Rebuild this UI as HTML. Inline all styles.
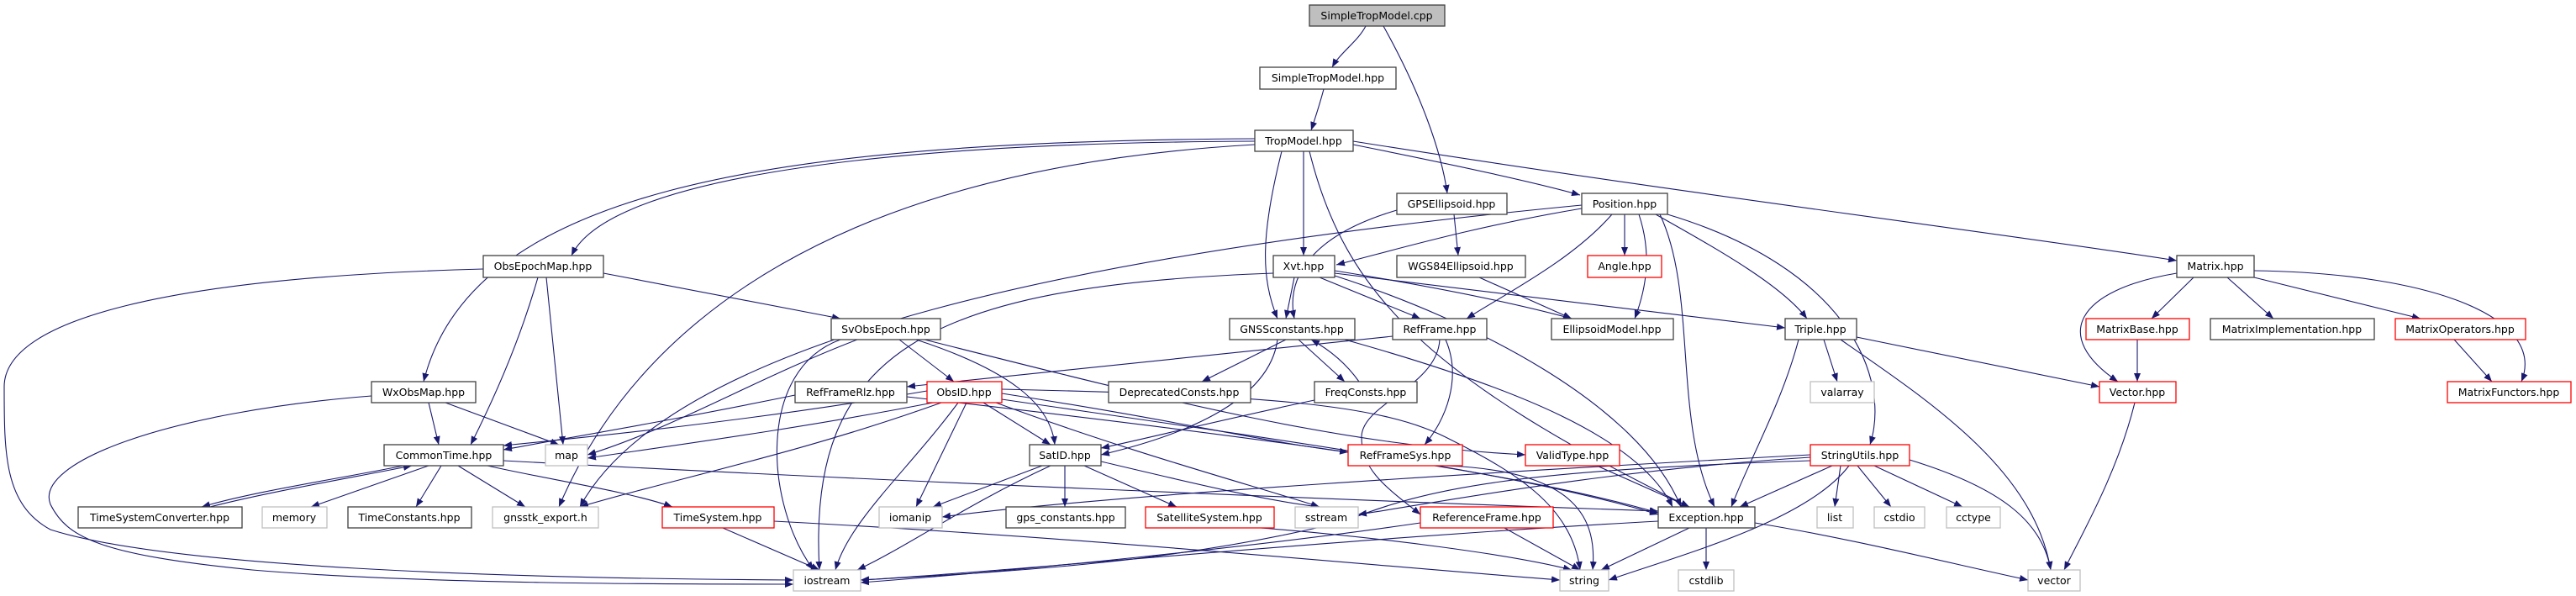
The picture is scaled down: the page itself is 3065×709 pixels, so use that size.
<!DOCTYPE html>
<html><head><meta charset="utf-8">
<style>
html,body{margin:0;padding:0;background:#fff;}
svg{display:block;}
text{font-family:"DejaVu Sans","Liberation Sans",sans-serif;font-size:12.5px;fill:#000;text-anchor:middle;}
.e{fill:none;stroke:#191970;stroke-width:1.1;marker-end:url(#a);}
.n{fill:#fff;stroke:#404040;stroke-width:1.3;}
.r{fill:#fff;stroke:#ff0000;stroke-width:1.3;}
.g{fill:#fff;stroke:#bfbfbf;stroke-width:1.3;}
</style></head>
<body>
<svg width="3065" height="709" viewBox="0 0 3065 709" xmlns="http://www.w3.org/2000/svg">
<defs><marker id="a" markerWidth="10" markerHeight="8" refX="10" refY="4" orient="auto" markerUnits="userSpaceOnUse"><path d="M0,0 L10,4 L0,8z" fill="#191970"/></marker></defs>
<g>
<path class="e" d="M1625 31 C1615 50 1595 62 1585 80"/>
<path class="e" d="M1646 31 C1690 110 1715 180 1722 230"/>
<path class="e" d="M1575 106 C1570 125 1565 140 1560 155"/>
<path class="e" d="M1493 168 C1000 170 720 220 680 304"/>
<path class="e" d="M1493 165 C900 168 560 230 504 454"/>
<path class="e" d="M1493 172 C1000 200 760 380 665 603"/>
<path class="e" d="M1525 180 C1500 280 1500 330 1520 379"/>
<path class="e" d="M1551 180 L1551 304"/>
<path class="e" d="M1558 180 C1600 350 1700 450 2010 603"/>
<path class="e" d="M1610 172 C1700 190 1820 215 1880 232"/>
<path class="e" d="M1610 168 C2000 230 2400 280 2590 310"/>
<path class="e" d="M1730 255 L1735 304"/>
<path class="e" d="M1662 250 C1560 280 1530 330 1540 379"/>
<path class="e" d="M1882 248 C1750 270 1650 300 1590 315"/>
<path class="e" d="M1882 244 C1300 300 800 400 690 603"/>
<path class="e" d="M1933 255 L1933 304"/>
<path class="e" d="M1918 255 C1870 310 1790 350 1745 379"/>
<path class="e" d="M1950 255 C1965 300 1960 340 1945 379"/>
<path class="e" d="M1970 255 C2050 300 2120 340 2150 379"/>
<path class="e" d="M1975 255 C2020 350 1990 500 2040 603"/>
<path class="e" d="M1984 255 C2200 320 2250 450 2225 529"/>
<path class="e" d="M2610 330 L2560 379"/>
<path class="e" d="M2650 330 L2705 379"/>
<path class="e" d="M2682 330 L2880 379"/>
<path class="e" d="M2682 322 C2900 325 3030 380 3000 454"/>
<path class="e" d="M2590 325 C2470 345 2440 400 2520 454"/>
<path class="e" d="M718 325 L1000 379"/>
<path class="e" d="M650 330 L670 529"/>
<path class="e" d="M640 330 C620 400 590 470 560 529"/>
<path class="e" d="M575 320 C200 330 5 380 5 460 C5 540 5 600 60 630 C200 675 600 688 944 690"/>
<path class="e" d="M442 471 C200 490 40 550 60 600 C80 640 120 660 300 678 C500 695 800 695 944 695"/>
<path class="e" d="M510 479 L522 529"/>
<path class="e" d="M530 479 L665 529"/>
<path class="e" d="M1540 330 L1530 379"/>
<path class="e" d="M1570 330 L1690 379"/>
<path class="e" d="M1588 322 C1700 340 1800 360 1870 379"/>
<path class="e" d="M1588 325 C1800 350 2000 375 2124 390"/>
<path class="e" d="M1515 325 C1100 340 960 420 975 678"/>
<path class="e" d="M1588 328 C1750 380 1950 480 2000 603"/>
<path class="e" d="M1760 330 L1870 379"/>
<path class="e" d="M1070 404 L1135 454"/>
<path class="e" d="M1090 404 C1200 440 1250 480 1255 529"/>
<path class="e" d="M1020 404 C900 450 800 510 699 541"/>
<path class="e" d="M1000 404 C900 440 910 600 968 678"/>
<path class="e" d="M1100 404 C1400 480 1600 530 1815 541"/>
<path class="e" d="M1530 404 L1430 454"/>
<path class="e" d="M1545 404 L1600 454"/>
<path class="e" d="M1617 454 C1600 430 1580 415 1560 404"/>
<path class="e" d="M1520 404 C1510 480 1400 520 1310 541"/>
<path class="e" d="M1600 404 C1800 460 1950 520 1990 603"/>
<path class="e" d="M1564 476 C1450 500 1350 525 1310 533"/>
<path class="e" d="M1657 400 L1079 460"/>
<path class="e" d="M1720 404 C1740 450 1720 500 1695 529"/>
<path class="e" d="M1713 404 C1710 460 1620 480 1620 520 C1620 560 1650 580 1690 612"/>
<path class="e" d="M2140 404 C2120 480 2080 550 2060 603"/>
<path class="e" d="M2170 404 L2186 454"/>
<path class="e" d="M2209 401 L2498 460"/>
<path class="e" d="M2190 404 C2300 480 2420 560 2440 678"/>
<path class="e" d="M2543 404 L2543 454"/>
<path class="e" d="M2920 404 L2965 454"/>
<path class="e" d="M2540 479 C2520 560 2480 630 2456 678"/>
<path class="e" d="M946 470 C800 500 680 520 599 535"/>
<path class="e" d="M1079 472 C1500 520 1800 560 1973 610"/>
<path class="e" d="M1103 465 C900 500 700 520 599 530"/>
<path class="e" d="M1110 479 C950 510 800 530 699 545"/>
<path class="e" d="M1120 479 C950 540 800 570 690 603"/>
<path class="e" d="M1140 479 C1080 560 1010 620 994 678"/>
<path class="e" d="M1150 479 L1090 603"/>
<path class="e" d="M1170 479 L1250 529"/>
<path class="e" d="M1192 468 C1400 500 1500 525 1604 538"/>
<path class="e" d="M1192 475 C1500 520 1800 560 1973 612"/>
<path class="e" d="M1185 479 C1350 540 1500 580 1570 603"/>
<path class="e" d="M1192 463 C1500 470 1640 480 1720 520 C1800 560 1870 600 1880 678"/>
<path class="e" d="M480 554 C400 570 300 585 240 603"/>
<path class="e" d="M250 603 C320 585 420 568 490 554"/>
<path class="e" d="M510 554 L370 603"/>
<path class="e" d="M525 554 L495 603"/>
<path class="e" d="M545 554 L625 603"/>
<path class="e" d="M580 554 C650 570 750 585 800 603"/>
<path class="e" d="M599 548 C1000 570 1600 595 1973 608"/>
<path class="e" d="M1240 554 L1110 603"/>
<path class="e" d="M1267 554 L1267 603"/>
<path class="e" d="M1290 554 L1400 603"/>
<path class="e" d="M1250 554 C1150 600 1080 650 1020 678"/>
<path class="e" d="M1310 549 C1400 570 1500 595 1570 603"/>
<path class="e" d="M1720 554 C1880 560 1900 620 1895 678"/>
<path class="e" d="M1900 554 L2010 603"/>
<path class="e" d="M2154 541 C1800 560 1300 590 1121 615"/>
<path class="e" d="M2154 544 C1900 560 1700 600 1616 612"/>
<path class="e" d="M2180 554 L2070 603"/>
<path class="e" d="M2190 554 L2183 603"/>
<path class="e" d="M2210 554 L2250 603"/>
<path class="e" d="M2230 554 L2335 603"/>
<path class="e" d="M2272 547 C2380 580 2430 620 2440 678"/>
<path class="e" d="M2200 554 C2150 620 2000 660 1914 690"/>
<path class="e" d="M2154 548 C1800 560 1700 580 1600 620 C1400 670 1200 680 1024 690"/>
<path class="e" d="M921 620 C1300 640 1600 670 1856 690"/>
<path class="e" d="M860 628 L975 678"/>
<path class="e" d="M1500 628 C1650 640 1800 660 1870 678"/>
<path class="e" d="M1690 622 C1500 650 1200 680 1024 693"/>
<path class="e" d="M1790 628 L1880 678"/>
<path class="e" d="M1973 620 C1600 640 1200 680 1024 690"/>
<path class="e" d="M2010 628 L1905 678"/>
<path class="e" d="M2030 628 L2030 678"/>
<path class="e" d="M2088 622 C2200 640 2320 670 2413 690"/>
</g>
<g>
<rect x="1558" y="6" width="161" height="25" fill="#bfbfbf" stroke="#404040" stroke-width="1.3"/><text x="1638" y="23">SimpleTropModel.cpp</text>
<rect class="n" x="1499" y="80" width="162" height="26"/><text x="1580" y="97">SimpleTropModel.hpp</text>
<rect class="n" x="1493" y="155" width="117" height="25"/><text x="1551" y="172">TropModel.hpp</text>
<rect class="n" x="1662" y="230" width="131" height="25"/><text x="1727" y="247">GPSEllipsoid.hpp</text>
<rect class="n" x="1882" y="230" width="102" height="25"/><text x="1933" y="247">Position.hpp</text>
<rect class="n" x="575" y="304" width="143" height="26"/><text x="646" y="321">ObsEpochMap.hpp</text>
<rect class="n" x="1515" y="304" width="73" height="26"/><text x="1551" y="321">Xvt.hpp</text>
<rect class="n" x="1662" y="304" width="153" height="26"/><text x="1738" y="321">WGS84Ellipsoid.hpp</text>
<rect class="r" x="1889" y="304" width="88" height="26"/><text x="1933" y="321">Angle.hpp</text>
<rect class="n" x="2590" y="304" width="92" height="26"/><text x="2636" y="321">Matrix.hpp</text>
<rect class="n" x="989" y="379" width="130" height="25"/><text x="1054" y="396">SvObsEpoch.hpp</text>
<rect class="n" x="1463" y="379" width="149" height="25"/><text x="1537" y="396">GNSSconstants.hpp</text>
<rect class="n" x="1657" y="379" width="112" height="25"/><text x="1713" y="396">RefFrame.hpp</text>
<rect class="n" x="1846" y="379" width="145" height="25"/><text x="1918" y="396">EllipsoidModel.hpp</text>
<rect class="n" x="2124" y="379" width="85" height="25"/><text x="2166" y="396">Triple.hpp</text>
<rect class="r" x="2482" y="379" width="123" height="25"/><text x="2543" y="396">MatrixBase.hpp</text>
<rect class="n" x="2630" y="379" width="195" height="25"/><text x="2727" y="396">MatrixImplementation.hpp</text>
<rect class="r" x="2850" y="379" width="155" height="25"/><text x="2927" y="396">MatrixOperators.hpp</text>
<rect class="n" x="442" y="454" width="124" height="25"/><text x="504" y="471">WxObsMap.hpp</text>
<rect class="n" x="946" y="454" width="133" height="25"/><text x="1012" y="471">RefFrameRlz.hpp</text>
<rect class="r" x="1103" y="454" width="89" height="25"/><text x="1147" y="471">ObsID.hpp</text>
<rect class="n" x="1319" y="454" width="169" height="25"/><text x="1403" y="471">DeprecatedConsts.hpp</text>
<rect class="n" x="1564" y="454" width="122" height="25"/><text x="1625" y="471">FreqConsts.hpp</text>
<rect class="g" x="2154" y="454" width="76" height="25"/><text x="2192" y="471">valarray</text>
<rect class="r" x="2498" y="454" width="91" height="25"/><text x="2543" y="471">Vector.hpp</text>
<rect class="r" x="2912" y="454" width="147" height="25"/><text x="2985" y="471">MatrixFunctors.hpp</text>
<rect class="n" x="457" y="529" width="142" height="25"/><text x="528" y="546">CommonTime.hpp</text>
<rect class="g" x="649" y="529" width="50" height="25"/><text x="674" y="546">map</text>
<rect class="n" x="1225" y="529" width="85" height="25"/><text x="1267" y="546">SatID.hpp</text>
<rect class="r" x="1604" y="529" width="136" height="25"/><text x="1672" y="546">RefFrameSys.hpp</text>
<rect class="r" x="1815" y="529" width="112" height="25"/><text x="1871" y="546">ValidType.hpp</text>
<rect class="r" x="2154" y="529" width="118" height="25"/><text x="2213" y="546">StringUtils.hpp</text>
<rect class="n" x="93" y="603" width="195" height="25"/><text x="190" y="620">TimeSystemConverter.hpp</text>
<rect class="g" x="312" y="603" width="77" height="25"/><text x="350" y="620">memory</text>
<rect class="n" x="414" y="603" width="147" height="25"/><text x="487" y="620">TimeConstants.hpp</text>
<rect class="g" x="586" y="603" width="126" height="25"/><text x="649" y="620">gnsstk_export.h</text>
<rect class="r" x="788" y="603" width="133" height="25"/><text x="854" y="620">TimeSystem.hpp</text>
<rect class="g" x="1046" y="603" width="75" height="25"/><text x="1083" y="620">iomanip</text>
<rect class="n" x="1197" y="603" width="142" height="25"/><text x="1268" y="620">gps_constants.hpp</text>
<rect class="r" x="1363" y="603" width="153" height="25"/><text x="1439" y="620">SatelliteSystem.hpp</text>
<rect class="g" x="1541" y="603" width="75" height="25"/><text x="1578" y="620">sstream</text>
<rect class="r" x="1690" y="603" width="158" height="25"/><text x="1769" y="620">ReferenceFrame.hpp</text>
<rect class="n" x="1973" y="603" width="115" height="25"/><text x="2030" y="620">Exception.hpp</text>
<rect class="g" x="2162" y="603" width="43" height="25"/><text x="2183" y="620">list</text>
<rect class="g" x="2230" y="603" width="60" height="25"/><text x="2260" y="620">cstdio</text>
<rect class="g" x="2316" y="603" width="64" height="25"/><text x="2348" y="620">cctype</text>
<rect class="g" x="944" y="678" width="80" height="25"/><text x="984" y="695">iostream</text>
<rect class="g" x="1856" y="678" width="58" height="25"/><text x="1885" y="695">string</text>
<rect class="g" x="1997" y="678" width="66" height="25"/><text x="2030" y="695">cstdlib</text>
<rect class="g" x="2413" y="678" width="62" height="25"/><text x="2444" y="695">vector</text>
</g>
</svg>
</body></html>
